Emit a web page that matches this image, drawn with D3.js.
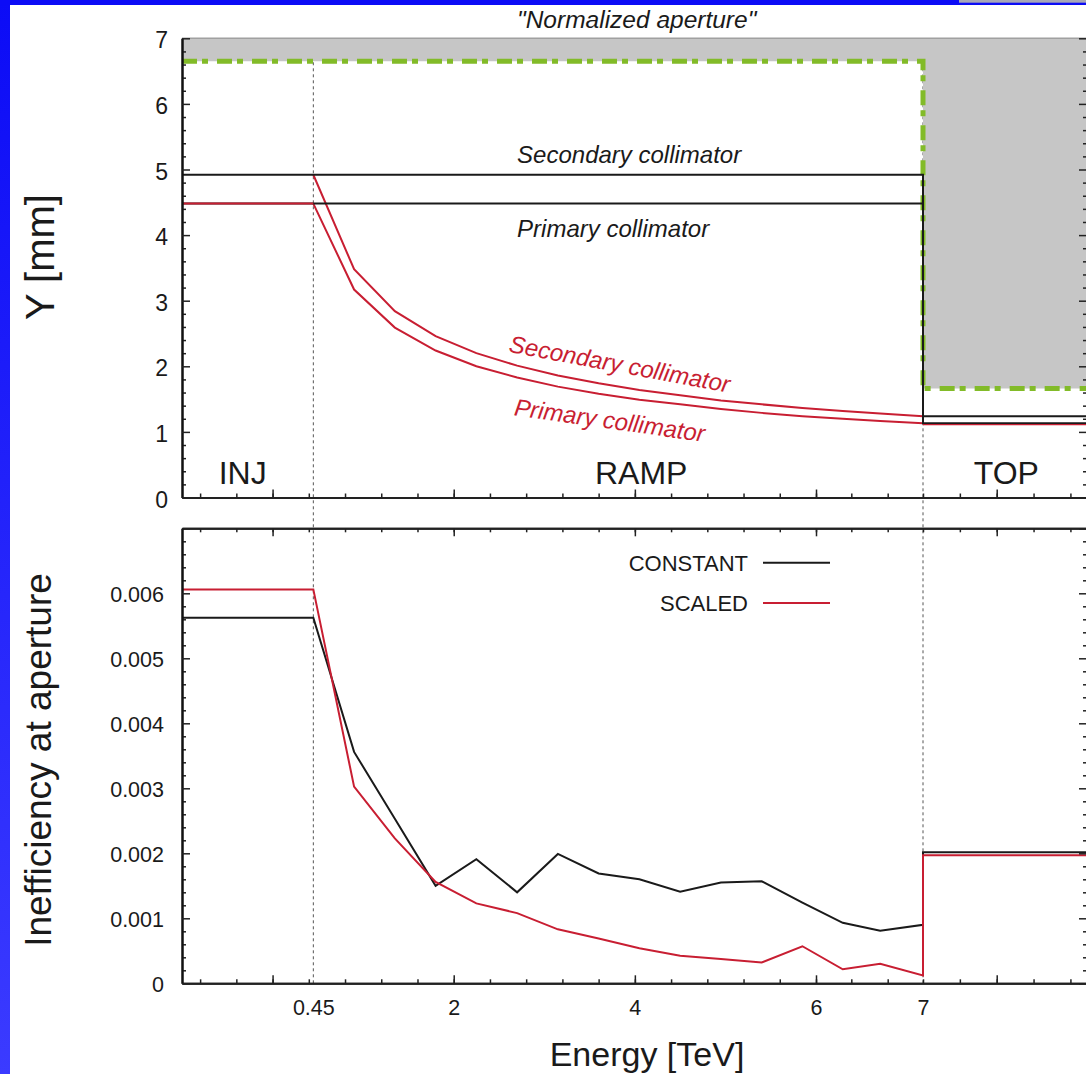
<!DOCTYPE html>
<html>
<head>
<meta charset="utf-8">
<script src="https://cdn.jsdelivr.net/npm/d3@7"></script>
<style>
  html, body { margin: 0; padding: 0; background: #fff; }
  svg { display: block; }
  text { font-family: "Liberation Sans", Arial, Helvetica, sans-serif; fill: #1a1a1a; }
</style>
</head>
<body>
<svg id="chart" width="1086" height="1074"></svg>
<script>
// ---- Data -----------------------------------------------------------------
// Energy of each computed point along the ramp [TeV]
const rampEnergy = [0.45, 0.9, 1.35, 1.8, 2.25, 2.7, 3.15, 3.6, 4.05, 4.5, 4.95, 5.4, 5.85, 6.25, 6.6, 7.0];
const injEnergy = 0.45;   // end of injection plateau
const topEnergy = 7;      // start of flat top
const xMin = -1;
const xMax = 9.225;

// Collimator half gaps [mm]
const primaryConst = 4.48;
const secondaryConst = 4.92;
const primaryTop = 1.13;
const secondaryTop = 1.24;
const primaryScaled   = [4.48, 3.17, 2.59, 2.24, 2.00, 1.83, 1.69, 1.58, 1.49, 1.42, 1.35, 1.29, 1.24, 1.20, 1.165, 1.13];
const secondaryScaled = [4.92, 3.48, 2.84, 2.46, 2.20, 2.01, 1.86, 1.74, 1.64, 1.56, 1.48, 1.42, 1.365, 1.32, 1.28, 1.24];

// "Normalized aperture" boundary [mm]
const apertureEnergy = [xMin, topEnergy, topEnergy, xMax];
const apertureY      = [6.65, 6.65, 1.66, 1.66];
const apertureMax = 7;

// Inefficiency at aperture
const constantIneff = [0.005625, 0.00356, 0.00253, 0.0015, 0.00191, 0.0014, 0.00199, 0.00169, 0.0016, 0.00141, 0.00155, 0.00157, 0.00124, 0.00093, 0.00081, 0.0009];
const scaledIneff   = [0.00606, 0.003025, 0.00223, 0.00156, 0.00123, 0.00108, 0.00083, 0.00069, 0.00054, 0.000425, 0.000375, 0.00032, 0.00057, 0.000215, 0.0003, 0.00012];
const constantInj = 0.005625, scaledInj = 0.00606;
const constantTop = 0.002015, scaledTop = 0.00197;

// Axis ticks
const xMinorTicks = [-0.8, -0.4, 0, 0.4, 0.8, 1.2, 1.6, 2, 2.4, 2.8, 3.2, 3.6, 4, 4.4, 4.8, 5.2, 5.6, 6, 6.33, 6.67, 7, 7.5, 8, 8.5, 9];
const xMajorTicks = [0, 2, 4, 6, 8];
const xLabelValues = [0.45, 2, 4, 6, 7];
const xLabelTexts  = ["0.45", "2", "4", "6", "7"];
const yTopMajor = [0, 1, 2, 3, 4, 5, 6, 7];
const yTopMinor = [0.2, 0.4, 0.6, 0.8, 1.2, 1.4, 1.6, 1.8, 2.2, 2.4, 2.6, 2.8, 3.2, 3.4, 3.6, 3.8, 4.2, 4.4, 4.6, 4.8, 5.2, 5.4, 5.6, 5.8, 6.2, 6.4, 6.6, 6.8];
const yBotMajor = [0, 0.001, 0.002, 0.003, 0.004, 0.005, 0.006, 0.007];
const yBotLabels = ["0", "0.001", "0.002", "0.003", "0.004", "0.005", "0.006", ""];
const yBotMinor = [];
yBotMajor.slice(0, -1).forEach(v => [1, 2, 3, 4].forEach(k => yBotMinor.push(+(v + k * 0.0002).toFixed(5))));

// ---- Layout ---------------------------------------------------------------
const svg = d3.select("#chart");
const L = 182, R = 1087;
const RED = "#c81e32", BLACK = "#1a1a1a", GREEN = "#82bb28", GREY = "#c6c6c6";

// Energy axis: stretched between 6 and 7 TeV, compressed beyond the flat-top start
const x = d3.scaleLinear().domain([xMin, 6, topEnergy, xMax]).range([L, 816, 923, R]);
const yTop = d3.scaleLinear().domain([0, 7]).range([497.5, 38.3]);
const yBot = d3.scaleLinear().domain([0, 0.007]).range([983.3, 528.3]);

// Slide frame
const defs = svg.append("defs");
const grad = defs.append("linearGradient").attr("id", "slideBlue").attr("x1", 0).attr("y1", 0).attr("x2", 0).attr("y2", 1);
grad.append("stop").attr("offset", "0%").attr("stop-color", "#0c0cf6");
grad.append("stop").attr("offset", "100%").attr("stop-color", "#3b3bff");
svg.append("rect").attr("x", 0).attr("y", 0).attr("width", 1086).attr("height", 1074).attr("fill", "#fff");
svg.append("rect").attr("x", 0).attr("y", 0).attr("width", 10).attr("height", 1074).attr("fill", "url(#slideBlue)");
svg.append("rect").attr("x", 0).attr("y", 0).attr("width", 1086).attr("height", 5).attr("fill", "#0c0cf6");
svg.append("rect").attr("x", 959).attr("y", 0).attr("width", 127).attr("height", 2.7).attr("fill", "#a8a8b8");

// Phase separators
[injEnergy, topEnergy].forEach(e => {
  svg.append("line")
    .attr("x1", x(e)).attr("x2", x(e))
    .attr("y1", yTop(7)).attr("y2", yBot(0))
    .attr("stroke", "#555").attr("stroke-width", 1).attr("stroke-dasharray", "3,3");
});

// ---- Upper panel: collimator settings -----------------------------------
const aperture = apertureEnergy.map((e, i) => ({ e, y: apertureY[i] }));
svg.append("path").datum(aperture)
  .attr("d", d3.area().x(d => x(d.e)).y0(d => yTop(d.y)).y1(yTop(apertureMax)))
  .attr("fill", GREY);
svg.append("line").attr("x1", L).attr("x2", R).attr("y1", yTop(7)).attr("y2", yTop(7))
  .attr("stroke", "#a0a0a0").attr("stroke-width", 1.5);
svg.append("path").datum(aperture)
  .attr("d", d3.line().x(d => x(d.e)).y(d => yTop(d.y)))
  .attr("fill", "none").attr("stroke", GREEN).attr("stroke-width", 5)
  .attr("stroke-dasharray", "15,5,6,9");

const line = (ys) => d3.line().x(d => x(d.e)).y(d => ys(d.v));
function stepSeries(injV, ramp, topV) {
  return [{ e: xMin, v: injV }]
    .concat(rampEnergy.map((e, i) => ({ e, v: ramp[i] })))
    .concat([{ e: topEnergy, v: topV }, { e: xMax, v: topV }]);
}
const rampSeries = (ramp) => rampEnergy.map((e, i) => ({ e, v: ramp[i] }));
const flat = (v) => rampEnergy.map(() => v);

// Scaled settings along the ramp
[secondaryScaled, primaryScaled].forEach(s => {
  svg.append("path").datum(rampSeries(s))
    .attr("d", line(yTop)).attr("fill", "none").attr("stroke", RED).attr("stroke-width", 2);
});
// Constant settings
[[secondaryConst, secondaryTop], [primaryConst, primaryTop]].forEach(([c, t]) => {
  svg.append("path").datum(stepSeries(c, flat(c), t))
    .attr("d", line(yTop)).attr("fill", "none").attr("stroke", BLACK).attr("stroke-width", 2);
});
// primary plateau at injection drawn in red
svg.append("path").datum([{ e: xMin, v: primaryConst }, { e: injEnergy, v: primaryConst }])
  .attr("d", line(yTop)).attr("fill", "none").attr("stroke", RED).attr("stroke-width", 2);
svg.append("path").datum([{ e: topEnergy, v: primaryTop }, { e: xMax, v: primaryTop }])
  .attr("d", line(yTop)).attr("fill", "none").attr("stroke", RED).attr("stroke-width", 1.2)
  .attr("transform", "translate(0,1.2)");

// ---- Lower panel: inefficiency ------------------------------------------
svg.append("path").datum(stepSeries(constantInj, constantIneff, constantTop))
  .attr("d", line(yBot)).attr("fill", "none").attr("stroke", BLACK).attr("stroke-width", 2);
svg.append("path").datum(stepSeries(scaledInj, scaledIneff, scaledTop))
  .attr("d", line(yBot)).attr("fill", "none").attr("stroke", RED).attr("stroke-width", 2);

// ---- Axes ---------------------------------------------------------------
function tickAxis(gen, vals, size, y0, x0, stroke) {
  const g = svg.append("g").attr("transform", `translate(${x0},${y0})`)
    .call(gen.tickValues(vals).tickSize(size).tickSizeOuter(0).tickFormat(""));
  g.selectAll("path.domain").attr("stroke", stroke).attr("stroke-width", 2);
  g.selectAll(".tick line").attr("stroke", "#222").attr("stroke-width", 1.5);
  return g;
}
// upper panel
tickAxis(d3.axisBottom(x), xMinorTicks, -4, yTop(0), 0, "#222");
tickAxis(d3.axisBottom(x), xMajorTicks, -8, yTop(0), 0, "#222");
tickAxis(d3.axisLeft(yTop), yTopMinor, -4, 0, L, "#111");
tickAxis(d3.axisLeft(yTop), yTopMajor, -8, 0, L, "#111");
tickAxis(d3.axisRight(yTop), yTopMinor, -4, 0, R, "#222");
tickAxis(d3.axisRight(yTop), yTopMajor, -8, 0, R, "#222");
// lower panel
tickAxis(d3.axisTop(x), xMinorTicks, -4, yBot(0.007), 0, "#222");
tickAxis(d3.axisTop(x), xMajorTicks, -8, yBot(0.007), 0, "#222");
tickAxis(d3.axisBottom(x), xMinorTicks, -4, yBot(0), 0, "#222");
tickAxis(d3.axisBottom(x), xMajorTicks, -8, yBot(0), 0, "#222");
tickAxis(d3.axisLeft(yBot), yBotMinor, -4, 0, L, "#111");
tickAxis(d3.axisLeft(yBot), yBotMajor, -8, 0, L, "#111");
tickAxis(d3.axisRight(yBot), yBotMinor, -4, 0, R, "#222");
tickAxis(d3.axisRight(yBot), yBotMajor, -8, 0, R, "#222");

// Tick labels
function labelAxis(gen, vals, fmt, pad, size, x0, y0) {
  const g = svg.append("g").attr("transform", `translate(${x0},${y0})`)
    .call(gen.tickValues(vals).tickSize(0).tickPadding(pad).tickFormat(fmt));
  g.select("path.domain").remove();
  g.selectAll("text").attr("font-size", size).attr("fill", "#1a1a1a")
    .style("font-family", '"Liberation Sans", Arial, sans-serif');
  return g;
}
labelAxis(d3.axisLeft(yTop), yTopMajor, d => String(d), 14, 23, L, 0)
  .selectAll("text").attr("dy", "0.42em");
labelAxis(d3.axisLeft(yBot), yBotMajor, (d, i) => yBotLabels[i], 18, 21.5, L, 0)
  .selectAll("text").attr("dy", "0.36em");
labelAxis(d3.axisBottom(x), xLabelValues, (d, i) => xLabelTexts[i], 16, 21.5, 0, yBot(0));

// ---- Annotations ----------------------------------------------------------
function label(txt, px, py, opts = {}) {
  const t = svg.append("text").text(txt)
    .attr("x", px).attr("y", py)
    .attr("font-size", opts.size || 24)
    .attr("text-anchor", opts.anchor || "start");
  if (opts.italic) t.attr("font-style", "italic");
  if (opts.fill) t.style("fill", opts.fill);
  if (opts.spacing) t.attr("letter-spacing", opts.spacing);
  if (opts.rotate) t.attr("transform", `rotate(${opts.rotate},${px},${py})`);
  return t;
}
label('"Normalized aperture"', x(4.02), 28, { italic: true, size: 24.5, anchor: "middle" });
label("Secondary collimator", x(2.7), yTop(5.1), { italic: true, size: 24 });
label("Primary collimator", x(2.7), yTop(3.97), { italic: true, size: 24 });
label("Secondary collimator", x(2.6), yTop(2.22), { italic: true, size: 24, fill: RED, rotate: 10.5 });
label("Primary collimator", x(2.66), yTop(1.255), { italic: true, size: 24, fill: RED, rotate: 8 });

label("INJ", x(-0.33), yTop(0.21), { size: 32, anchor: "middle" });
label("RAMP", x(4.07), yTop(0.21), { size: 32, anchor: "middle" });
label("TOP", x(8.13), yTop(0.21), { size: 32, anchor: "middle" });

// Legend
const legend = [
  { name: "CONSTANT", color: BLACK, y: 0.00647, spacing: 0 },
  { name: "SCALED", color: RED, y: 0.00585, spacing: 0 }
];
legend.forEach(d => {
  label(d.name, 748, yBot(d.y) + 8, { size: 22, anchor: "end", spacing: d.spacing });
  svg.append("line").attr("x1", 763).attr("x2", 830).attr("y1", yBot(d.y)).attr("y2", yBot(d.y))
    .attr("stroke", d.color).attr("stroke-width", 2);
});

// Axis titles
label("Y [mm]", 54, 257, { size: 40, anchor: "middle", rotate: -90 });
label("Inefficiency at aperture", 51, 760, { size: 37, anchor: "middle", rotate: -90 });
label("Energy [TeV]", 647, 1066, { size: 34, anchor: "middle" });
</script>
</body>
</html>
